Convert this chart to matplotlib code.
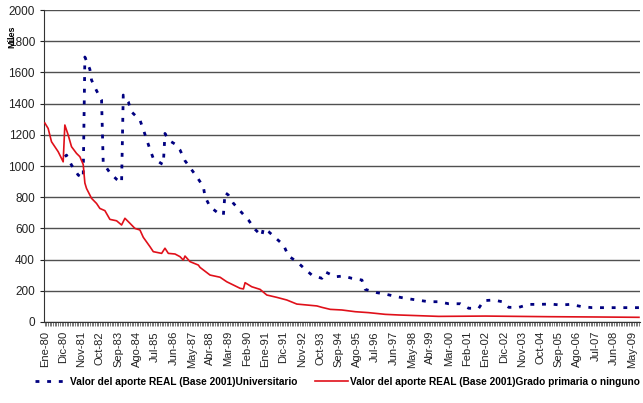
import matplotlib.pyplot as plt
import numpy as np

plt.rcParams['font.family'] = ['Liberation Sans', 'DejaVu Sans']

# month index (0 = Ene-80) and value
red_idx = [0, 2, 4, 6, 8, 10, 11, 12, 14, 16, 19, 21, 23, 24, 25, 28, 31, 33, 36, 39,
           43, 46, 48, 51, 54, 57, 59, 63, 65, 70, 72, 74, 78, 81, 83, 84, 87, 92, 93, 99,
           105, 109, 113, 117, 119, 120, 124, 129, 133, 139, 145, 151, 157, 163, 166, 171,
           178, 186, 194, 204, 212, 236, 264, 302, 332, 356]
red_val = [1276, 1241, 1156, 1124, 1092, 1049, 1027, 1263, 1199, 1124, 1081, 1060, 1010, 891,
           856, 793, 760, 728, 714, 658, 649, 622, 665, 633, 600, 590, 543, 483, 451, 440,
           473, 440, 436, 419, 397, 423, 387, 365, 350, 301, 287, 258, 237, 216, 212, 252,
           226, 209, 173, 158, 141, 115, 109, 103, 94, 81, 77, 66, 60, 49, 45, 36, 38, 34,
           32, 30]

blue_idx = [12, 13, 16, 20, 23, 24, 27, 28, 31, 34, 35, 39, 43, 46, 47, 50, 52, 57, 59, 61,
            63, 65, 70, 71, 72, 74, 78, 81, 84, 91, 95, 96, 99, 104, 107, 108, 110, 113,
            118, 122, 126, 130, 131, 134, 139, 143, 146, 151, 156, 160, 166, 168, 174, 179,
            184, 190, 192, 199, 204, 211, 217, 223, 230, 236, 242, 249, 254, 260, 263, 269,
            274, 278, 284, 290, 296, 303, 309, 315, 322, 328, 340, 353, 356]
blue_val = [1060, 1070, 1006, 942, 923, 1699, 1620, 1551, 1483, 1423, 1019, 957, 915, 893,
            1455, 1412, 1347, 1295, 1235, 1171, 1107, 1049, 1015, 1010, 1209, 1167, 1141,
            1103, 1034, 932, 868, 803, 739, 697, 686, 830, 814, 761, 701, 654, 594, 551, 601,
            580, 532, 494, 423, 387, 338, 301, 280, 322, 290, 295, 280, 269, 209, 188, 179,
            162, 150, 141, 130, 130, 117, 117, 88, 88, 137, 141, 130, 94, 94, 113, 113, 115,
            109, 113, 98, 92, 92, 92, 92]

n_months = 357
tick_labels = ['Ene-80', 'Dic-80', 'Nov-81', 'Oct-82', 'Sep-83', 'Ago-84', 'Jul-85', 'Jun-86',
               'May-87', 'Abr-88', 'Mar-89', 'Feb-90', 'Ene-91', 'Dic-91', 'Nov-92', 'Oct-93',
               'Sep-94', 'Ago-95', 'Jul-96', 'Jun-97', 'May-98', 'Abr-99', 'Mar-00', 'Feb-01',
               'Ene-02', 'Dic-02', 'Nov-03', 'Oct-04', 'Sep-05', 'Ago-06', 'Jul-07', 'Jun-08',
               'May-09']

fig = plt.figure(figsize=(6.43, 4.03), dpi=100)
ax = fig.add_axes([0.0684, 0.201, 0.9266, 0.774])

ax.plot(blue_idx, blue_val, color='#000080', lw=2, linestyle=(0, (1.4, 2.8)),
        label='Valor del aporte REAL (Base 2001)Universitario', zorder=3)
ax.plot(red_idx, red_val, color='#e0101a', lw=1.2,
        label='Valor del aporte REAL (Base 2001)Grado primaria o ninguno', zorder=4)

ax.set_xlim(-0.5, n_months - 0.5)
ax.set_ylim(0, 2000)
ax.set_yticks(np.arange(0, 2001, 200))
ax.yaxis.grid(True, color='#505050', lw=1)
ax.set_axisbelow(True)

ax.set_xticks(np.arange(len(tick_labels)) * 11)
ax.set_xticklabels(tick_labels, rotation=90, fontsize=8, color='#222222')
ax.set_xticks(np.arange(n_months), minor=True)
ax.tick_params(axis='x', which='both', direction='out', length=3, width=0.5, color='#444444')
ax.tick_params(axis='y', length=3, labelsize=8.5, colors='#222222')

for s in ['top', 'right']:
    ax.spines[s].set_visible(False)
for s in ['left', 'bottom']:
    ax.spines[s].set_color('#333333')

fig.text(0.018, 0.91, 'Miles', rotation=90, fontsize=6.5, fontweight='bold',
         ha='center', va='center')

fig.legend(loc='center', bbox_to_anchor=(0.525, 0.052), ncol=2, frameon=False,
           prop={'size': 7.3, 'weight': 'bold'}, handlelength=3.2, columnspacing=1.8,
           handletextpad=0.2)

plt.savefig('out.png', dpi=100)
